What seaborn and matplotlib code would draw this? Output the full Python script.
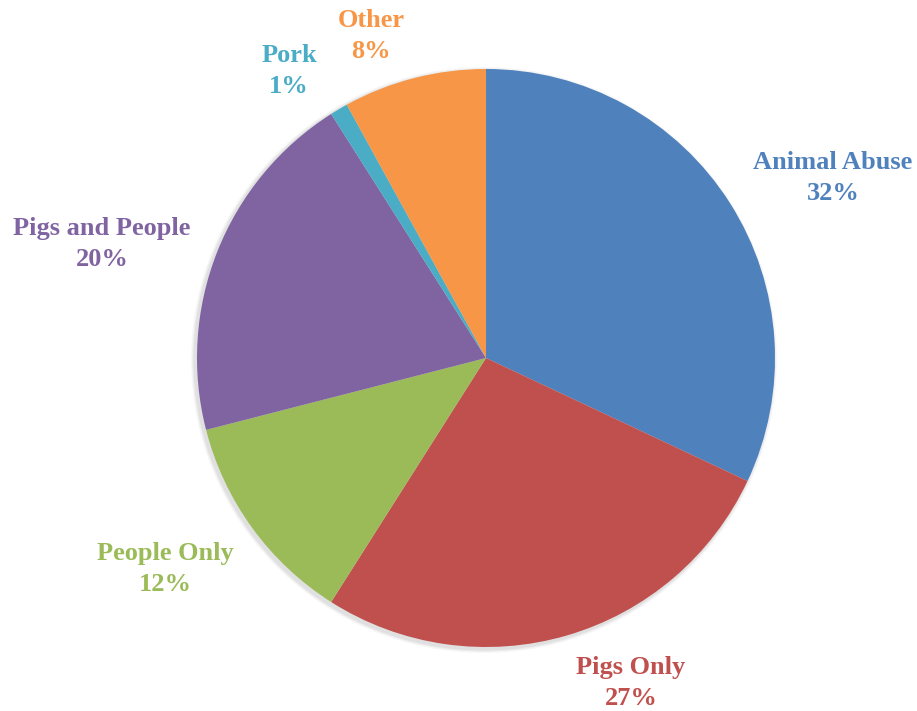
import matplotlib
matplotlib.use("Agg")
import matplotlib.pyplot as plt
import seaborn as sns

categories = ["Animal Abuse", "Pigs Only", "People Only", "Pigs and People", "Pork", "Other"]
shares = [32, 27, 12, 20, 1, 8]
colors = ["#4F81BD", "#C0504D", "#9BBB59", "#8064A2", "#4BACC6", "#F79646"]
# label anchor points (figure pixels, from top-left)
label_pos = [(833, 178), (631, 683), (165, 569), (102, 244), (289, 71), (371, 36)]

sns.set_theme(style="white")
plt.rcParams["font.family"] = ["Liberation Serif", "DejaVu Serif"]

W, H = 917, 711
fig = plt.figure(figsize=(W / 100, H / 100), dpi=100)
ax = fig.add_axes([0, 0, 1, 1])
ax.set_xlim(0, W)
ax.set_ylim(0, H)
ax.set_aspect("equal")
ax.axis("off")

cx, cy, r = 486, H - 358, 289
palette = sns.color_palette(colors)

# soft shadow behind the pie
for dx, a in [(10, 0.03), (7, 0.04), (4, 0.05)]:
    ax.add_patch(plt.Circle((cx - 2, cy - 2), r + dx * 0.4, color="black", alpha=a, lw=0))

ax.pie(shares, colors=palette, startangle=90, counterclock=False,
       center=(cx, cy), radius=r, wedgeprops=dict(linewidth=0))
ax.set_xlim(0, W)
ax.set_ylim(0, H)
ax.set_aspect("equal")

for name, val, col, (x, y) in zip(categories, shares, palette, label_pos):
    ax.text(x, H - y, f"{name}\n{val}%", ha="center", va="center", color=col,
            fontsize=19, fontweight="bold", linespacing=1.4)

fig.savefig("out.png", dpi=100)
